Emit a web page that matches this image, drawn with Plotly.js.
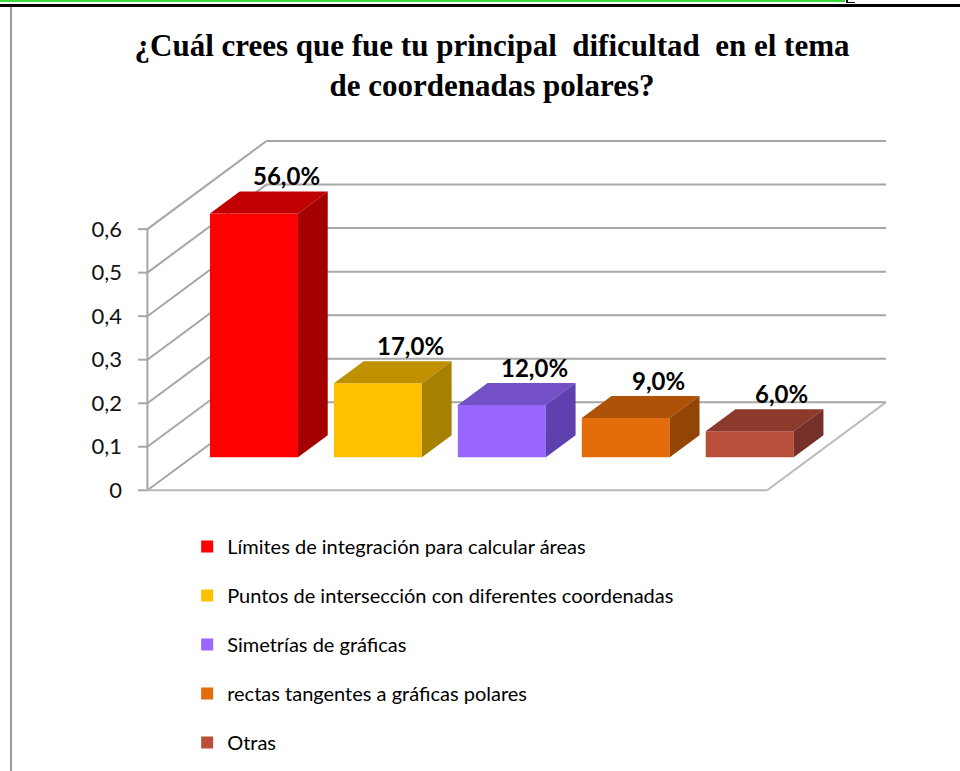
<!DOCTYPE html>
<html><head><meta charset="utf-8">
<script src="https://cdn.plot.ly/plotly-3.0.1.min.js"></script>
<style>
html,body{margin:0;padding:0;background:#fff;}
#chart{position:absolute;left:0;top:0;width:960px;height:771px;}
.deco{position:absolute;pointer-events:none;}
</style></head><body>
<div id="chart"></div>
<div class="deco" style="left:0;top:0;width:845px;height:2px;background:#3CDB3C"></div>
<div class="deco" style="left:846px;top:0;width:2px;height:3px;background:#000"></div>
<div class="deco" style="left:846px;top:2px;width:9px;height:1px;background:#000"></div>
<div class="deco" style="left:0;top:4px;width:960px;height:3px;background:#000"></div>
<div class="deco" style="left:10px;top:7px;width:2px;height:764px;background:#999"></div>
<script>
// ---- data ----
const categories = [
  "Límites de integración para calcular áreas",
  "Puntos de intersección con diferentes coordenadas",
  "Simetrías de gráficas",
  "rectas tangentes a gráficas polares",
  "Otras"
];
const values = [0.56, 0.17, 0.12, 0.09, 0.06];
const yTickVals = [0, 0.1, 0.2, 0.3, 0.4, 0.5, 0.6];
const yTickText = ["0", "0,1", "0,2", "0,3", "0,4", "0,5", "0,6"];
const chartTitle = "¿Cuál crees que fue tu principal  dificultad  en el tema<br>de coordenadas polares?";

// ---- styles ----
const frontColors = ["#FF0000", "#FFC000", "#9966FF", "#E46C0A", "#B94E3B"];
const topColors   = ["#C00000", "#BF9000", "#7350C5", "#AD5208", "#8B3A2C"];
const sideColors  = ["#A50000", "#A68000", "#5E40AE", "#934507", "#76302A"];
const gridColor = "#A6A6A6";

// ---- oblique 3D geometry in axis units ----
const DX = 0.96, DY = 0.2023;      // full depth offset
const F1 = 0.375, F2 = 0.625;      // bar depth span (fraction)
const HW = 0.355;                  // half bar width
const NCAT = categories.length;
const yTop = yTickVals[yTickVals.length - 1];

const shapes = [];
function seg(x0, y0, x1, y1, color) {
  shapes.push({type: 'line', xref: 'x', yref: 'y', x0, y0, x1, y1, layer: 'below',
               line: {color: color || gridColor, width: 2}});
}
yTickVals.forEach(v => {
  seg(0, v, DX, v + DY);                 // left wall
  seg(DX, v + DY, NCAT + DX, v + DY);    // back wall
  seg(-0.075, v, 0, v);                  // tick mark
});
seg(0, 0, 0, yTop);                      // front axis line
seg(0, 0, NCAT, 0, "#B8B8B8");           // floor front edge
seg(NCAT, 0, NCAT + DX, DY, "#B8B8B8");  // floor right edge

const traces = [];
const annotations = [];
categories.forEach((name, i) => {
  const c = i + 0.5, v = values[i];
  traces.push({
    type: 'bar', name: name, x: [c + F1 * DX], y: [v], base: [F1 * DY], width: [2 * HW],
    marker: {color: frontColors[i], line: {width: 0}},
    legendgroup: 'g' + i, hoverinfo: 'skip'
  });
});
categories.forEach((name, i) => {
  const c = i + 0.5, v = values[i];
  const xl = c - HW, xr = c + HW;
  traces.push({
    type: 'scatter', mode: 'lines', fill: 'toself', showlegend: false, hoverinfo: 'skip',
    x: [xl + F1 * DX, xr + F1 * DX, xr + F2 * DX, xl + F2 * DX, xl + F1 * DX],
    y: [v + F1 * DY, v + F1 * DY, v + F2 * DY, v + F2 * DY, v + F1 * DY],
    fillcolor: topColors[i], line: {width: 0, color: topColors[i]}
  });
  traces.push({
    type: 'scatter', mode: 'lines', fill: 'toself', showlegend: false, hoverinfo: 'skip',
    x: [xr + F1 * DX, xr + F1 * DX, xr + F2 * DX, xr + F2 * DX, xr + F1 * DX],
    y: [F1 * DY, v + F1 * DY, v + F2 * DY, F2 * DY, F1 * DY],
    fillcolor: sideColors[i], line: {width: 0, color: sideColors[i]}
  });
  annotations.push({
    xref: 'x', yref: 'y', x: c + F2 * DX + 0.02, y: v + F2 * DY, yanchor: 'bottom', xanchor: 'center',
    yshift: -1, showarrow: false,
    text: (v * 100).toFixed(1).replace('.', ',') + '%',
    font: {family: 'Lato, "Open Sans", sans-serif', size: 24, color: '#000', weight: 'bold'}
  });
});

const layout = {
  width: 960, height: 771, autosize: false,
  margin: {l: 135, r: 69, t: 129, b: 272, pad: 0, autoexpand: false},
  paper_bgcolor: '#fff', plot_bgcolor: 'rgba(0,0,0,0)',
  barmode: 'overlay', showlegend: true,
  title: {
    text: chartTitle, xref: 'container', yref: 'container', x: 0.5125, y: 0.928,
    xanchor: 'center', yanchor: 'top',
    font: {family: '"Liberation Serif", "Times New Roman", serif', size: 31, color: '#000', weight: 'bold'}
  },
  xaxis: {range: [-0.1, 6.0], visible: false, fixedrange: true},
  yaxis: {
    range: [-0.02, 0.83], tickmode: 'array', tickvals: yTickVals, ticktext: yTickText,
    ticks: '', showgrid: false, zeroline: false, showline: false, ticklabelstandoff: 12,
    tickfont: {family: 'Lato, "Open Sans", sans-serif', size: 22, color: '#111'}, fixedrange: true
  },
  legend: {
    x: 0.069, y: -0.0755, xanchor: 'left', yanchor: 'top', orientation: 'v',
    traceorder: 'grouped', tracegroupgap: 20,
    font: {family: 'Lato, "Open Sans", sans-serif', size: 20, color: '#000'},
    bgcolor: 'rgba(0,0,0,0)'
  },
  shapes: shapes, annotations: annotations
};

Plotly.newPlot('chart', traces, layout, {displayModeBar: false, staticPlot: true});
</script>
</body></html>
